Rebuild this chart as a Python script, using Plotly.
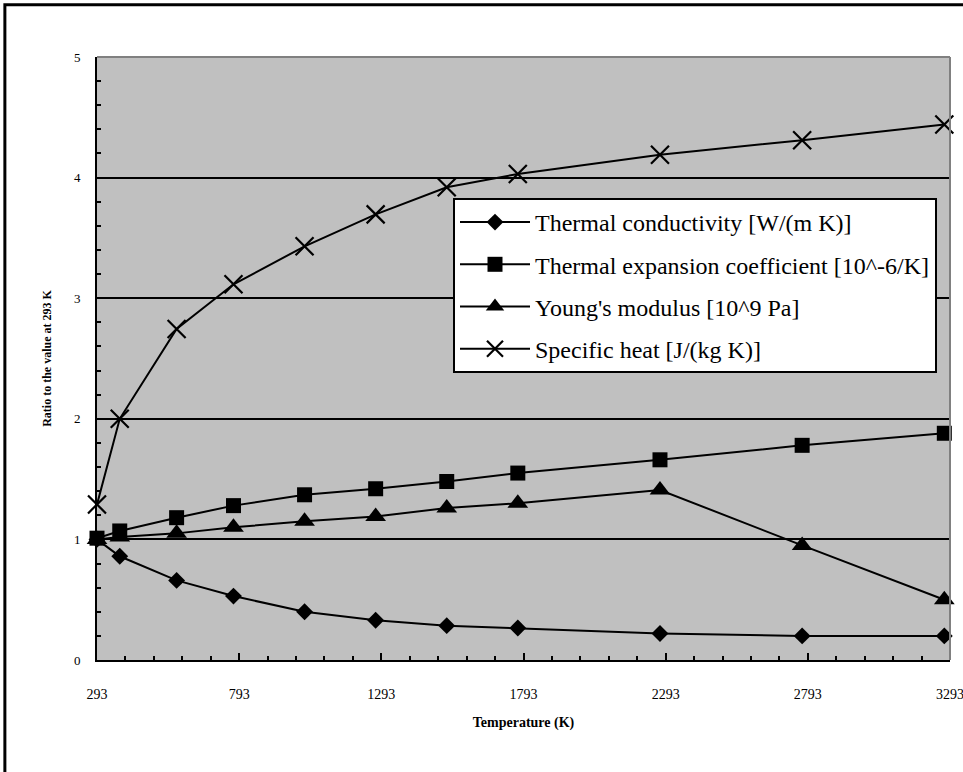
import plotly.graph_objects as go

# Temperatures (K) at which the properties were evaluated
temperature = [293, 373, 573, 773, 1023, 1273, 1523, 1773, 2273, 2773, 3273]

# Property values normalised by their value at 293 K
thermal_conductivity = [1.00, 0.86, 0.66, 0.53, 0.40, 0.33, 0.285, 0.265, 0.22, 0.20, 0.20]
thermal_expansion = [1.01, 1.07, 1.18, 1.28, 1.37, 1.42, 1.48, 1.55, 1.66, 1.78, 1.88]
youngs_modulus = [1.00, 1.02, 1.05, 1.10, 1.15, 1.19, 1.26, 1.30, 1.41, 0.95, 0.50]
specific_heat = [1.29, 2.00, 2.745, 3.115, 3.43, 3.695, 3.92, 4.03, 4.19, 4.31, 4.44]

series_names = [
    "Thermal conductivity [W/(m K)]",
    "Thermal expansion coefficient [10^-6/K]",
    "Young's modulus [10^9 Pa]",
    "Specific heat [J/(kg K)]",
]

x_tick_values = [293, 793, 1293, 1793, 2293, 2793, 3293]

SERIF = "Liberation Serif"

fig = go.Figure()

styles = [
    (thermal_conductivity, dict(symbol="diamond", size=13)),
    (thermal_expansion, dict(symbol="square", size=15)),
    (youngs_modulus, dict(symbol="triangle-up", size=18)),
    (specific_heat, dict(symbol="x-thin", size=18, line=dict(color="black", width=2.2))),
]

for i, (name, (values, marker)) in enumerate(zip(series_names, styles)):
    fig.add_trace(
        go.Scatter(
            x=temperature,
            y=values,
            name=name,
            legendgroup=f"g{i}",
            mode="lines+markers",
            line=dict(color="black", width=2),
            marker=dict(color="black", **marker),
            cliponaxis=False,
        )
    )

fig.update_layout(
    width=963,
    height=772,
    margin=dict(l=97, r=13, t=57, b=112, autoexpand=False),
    paper_bgcolor="white",
    plot_bgcolor="#C0C0C0",
    font=dict(family=SERIF, color="black"),
    showlegend=True,
    legend=dict(
        x=(453 - 97) / 853,
        y=(660 - 198) / 603,
        xanchor="left",
        yanchor="top",
        bgcolor="white",
        bordercolor="black",
        borderwidth=2,
        font=dict(family=SERIF, size=24, color="black"),
        itemwidth=70,
        tracegroupgap=8,
    ),
)

fig.update_xaxes(
    range=[293, 3293],
    automargin=False,
    tickmode="array",
    tickvals=x_tick_values,
    ticks="inside",
    ticklen=7,
    tickwidth=2,
    tickcolor="black",
    minor=dict(dtick=100, tick0=293, ticks="inside", ticklen=4, tickwidth=2, tickcolor="black"),
    showline=True,
    linecolor="black",
    linewidth=2,
    showgrid=False,
    zeroline=False,
    tickfont=dict(family=SERIF, size=14),
    ticklabelstandoff=20,
    ticklabeloverflow="allow",
    title=dict(text="<b>Temperature (K)</b>", font=dict(family=SERIF, size=14), standoff=16),
)

fig.update_yaxes(
    range=[0, 5],
    automargin=False,
    dtick=1,
    ticks="",
    minor=dict(dtick=0.2, ticks="inside", ticklen=4, tickwidth=2, tickcolor="black", showgrid=False),
    showline=True,
    linecolor="black",
    linewidth=2,
    showgrid=True,
    gridcolor="black",
    gridwidth=2,
    zeroline=False,
    tickfont=dict(family=SERIF, size=13),
    ticklabelstandoff=12,
    title=dict(text="<b>Ratio to the value at 293 K</b>", font=dict(family=SERIF, size=12), standoff=20),
)

# grey frame on the top and right edges of the plotting area
fig.add_shape(type="line", xref="paper", yref="paper", x0=0, x1=1, y0=1, y1=1,
              line=dict(color="#808080", width=2), layer="above")
fig.add_shape(type="line", xref="paper", yref="paper", x0=1, x1=1, y0=0, y1=1,
              line=dict(color="#808080", width=2), layer="above")

# outer chart border
fig.add_shape(type="rect", xref="paper", yref="paper",
              x0=-0.108, x1=1.2, y0=-0.3, y1=1.0865,
              line=dict(color="black", width=3), fillcolor="rgba(0,0,0,0)", layer="above")

fig.write_html("out.html")
